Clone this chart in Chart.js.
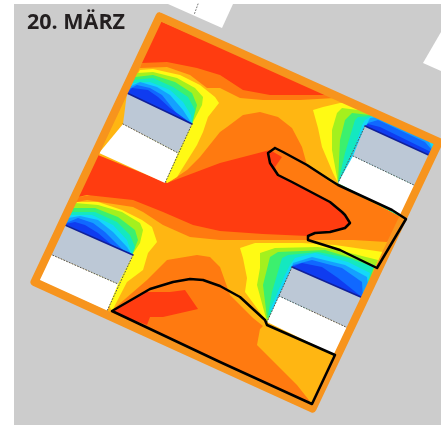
<!DOCTYPE html>
<html lang="de">
<head>
<meta charset="utf-8">
<title>20. März</title>
<script src="https://cdn.jsdelivr.net/npm/chart.js@4"></script>
<style>
    html, body { margin: 0; padding: 0; background: #fff; }
    #wrap { position: relative; width: 441px; height: 425px; overflow: hidden; }
    #titel { position: absolute; left: 27px; top: 7px; font: 700 21.5px/28px "Open Sans", sans-serif; color: #231f20; }
</style>
</head>
<body>
<div id="wrap">
    <canvas id="chartKarte" width="441" height="425"></canvas>
    <div id="titel">20. MÄRZ</div>
</div>
<script>
'use strict';

// ── palette ─────────────────────────────────────────────────────────────────
const C_GRAU     = '#cccccc';
const C_RAHMEN   = '#f7941d';
const C_ROT      = '#ff3c10';
const C_ORANGE   = '#ff7a10';
const C_GOLD     = '#ffb612';
const C_GELB     = '#fffa14';
const C_HELLGRUEN = '#a4f01e';
const C_GRUEN    = '#3cf06e';
const C_TUERKIS  = '#14e8c0';
const C_CYAN     = '#14d8f8';
const C_HELLBLAU = '#14a0ff';
const C_BLAU     = '#1068ff';
const C_DUNKELBLAU = '#0f3cf0';
const C_DACH     = '#bcc8d6';
const C_WEISS    = '#ffffff';
const C_LINIE    = '#000000';

// ── umgebung ────────────────────────────────────────────────────────────────
const flaeche    = [[14,4],[441,4],[441,425],[14,425]];
const nachbarA   = [[168,4],[233,4],[222,28]];
const nachbarB   = [[441,32],[423,63],[441,71]];
const innenfeld  = [[160,21],[437,144],[312,404],[38,281]];
const rahmen     = [[159.5,16.5],[439,142],[312.5,408.5],[34.5,282],[159.5,16.5]];

// ── temperaturzonen mitte ───────────────────────────────────────────────────
const obenOrange = [[160,21],[141,63],[140,68],[167,67],[190,75],[207,88],[220,88],[240,98],[263,100],[300,100],[335,98]];
const obenRot    = [[160,21],[141,63],[167,62],[197,68],[220,75],[243,90],[270,95],[330,95]];
const mitteOrange = [[78,197],[72,203],[87,200],[133,207],[143,212],[163,225],[190,237],[220,240],[287,240],[353,240],[387,242],[406,219],[330,182],[307,165],[302,147],[292,128],[278,117],[260,112],[243,115],[227,127],[220,132],[200,157],[187,170],[168,183]];
const mitteRot   = [[98,155],[167,183],[220,163],[270,150],[282,157],[275,167],[278,175],[292,182],[330,202],[342,212],[350,223],[345,228],[330,232],[315,233],[308,236],[263,234],[220,231],[193,225],[163,212],[133,200],[87,195],[78,197]];
const untenOrange = [[110,312],[147,280],[167,260],[197,255],[210,257],[220,267],[230,295],[253,318],[263,326],[260,329],[257,345],[277,365],[297,385],[312,404]];
const untenRot   = [[112,312],[143,292],[170,292],[185,290],[198,309],[163,317],[150,317],[147,325]];

// ── kältefahne nordwest ─────────────────────────────────────────────────────
const nwGelb   = [[140,70],[153,69],[180,75],[200,85],[215,97],[219,103],[208,117],[203,132],[197,145],[177,177],[167,183],[127,93]];
const nwHgruen = [[137,73],[153,72],[177,78],[195,88],[203,97],[202,105],[192,124],[127,93]];
const nwGruen  = [[135,77],[153,75],[175,82],[192,93],[197,105],[192,124],[127,93]];
const nwTuerk  = [[133,80],[153,78],[173,87],[188,97],[195,110],[192,124],[127,93]];
const nwCyan   = [[132,83],[150,82],[170,90],[183,102],[191,115],[192,124],[127,93]];
const nwHblau  = [[129,87],[140,82],[157,87],[170,95],[183,110],[192,124],[127,93]];
const nwBlau   = [[127,90],[137,85],[150,88],[162,95],[178,115],[192,124],[127,93]];
const nwDblau  = [[127,93],[132,88],[148,90],[158,97],[170,108],[192,124]];

// ── kältefahne nordost ──────────────────────────────────────────────────────
const noGelb   = [[313,110],[323,107],[340,103],[350,103],[363,110],[437,144],[405,219],[338,183],[333,173],[322,147],[318,128]];
const noHgruen = [[337,113],[342,108],[358,110],[368,113],[437,144],[405,219],[338,183],[332,150],[332,130]];
const noGruen  = [[345,120],[352,113],[370,115],[437,144],[405,219],[338,183],[340,140]];
const noTuerk  = [[355,120],[358,117],[372,116],[437,146],[405,219],[338,183],[345,153]];
const noCyan   = [[362,125],[365,120],[373,115],[428,137],[438,143],[437,152],[434,157],[338,183],[355,147]];
const noHblau  = [[370,118],[377,117],[427,138],[432,148],[435,157],[366,126]];
const noBlau   = [[368,123],[378,120],[425,142],[432,150],[434,157],[366,126]];
const noDblau  = [[365,126],[368,124],[380,127],[433,153],[434,157]];

// ── kältefahne südwest ──────────────────────────────────────────────────────
const swGelb   = [[77,202],[98,202],[122,210],[142,220],[152,227],[157,242],[148,253],[143,270],[127,282],[112,311],[65,225]];
const swHgruen = [[75,203],[98,205],[122,212],[140,223],[143,230],[140,243],[132,255],[65,225]];
const swGruen  = [[73,208],[95,208],[118,217],[135,230],[138,240],[132,255],[65,225]];
const swTuerk  = [[72,212],[95,212],[117,222],[130,235],[135,247],[132,255],[65,225]];
const swCyan   = [[70,215],[92,215],[113,225],[127,240],[132,255],[65,225]];
const swHblau  = [[68,218],[80,216],[98,220],[113,232],[127,247],[132,255],[65,225]];
const swBlau   = [[66,223],[78,218],[93,223],[105,232],[123,250],[132,255],[65,225]];
const swDblau  = [[65,224],[75,222],[85,225],[98,233],[112,245],[132,255]];

// ── kältefahne südost ───────────────────────────────────────────────────────
const soGelb   = [[240,248],[255,243],[302,243],[335,245],[383,252],[363,298],[267,322],[245,292],[247,278],[243,258]];
const soHgruen = [[260,253],[275,248],[318,247],[338,250],[378,260],[363,298],[267,322],[257,285],[260,268]];
const soGruen  = [[270,257],[278,252],[325,250],[375,265],[363,298],[267,318],[263,285]];
const soTuerk  = [[282,258],[288,255],[318,252],[348,258],[373,267],[363,298],[268,315],[272,292]];
const soCyan   = [[290,265],[295,258],[315,253],[348,262],[370,273],[363,298],[270,310],[285,275]];
const soHblau  = [[293,263],[312,257],[345,265],[367,277],[368,285],[363,298],[292,267]];
const soBlau   = [[293,265],[312,260],[342,268],[362,282],[363,298],[292,267]];
const soDblau  = [[292,267],[302,263],[322,267],[338,278],[363,298]];

// ── gebäude ─────────────────────────────────────────────────────────────────
const nwDach  = [[127,93],[192,124],[178,153],[123,124]];
const nwWand  = [[123,124],[178,153],[165,183],[99,153]];
const noDach  = [[365,126],[433,157],[418,187],[353,156]];
const noWand  = [[353,156],[418,187],[405,218],[338,183]];
const swDach  = [[65,225],[133,255],[118,284],[50,254]];
const swWand  = [[50,254],[118,284],[107,311],[38,280]];
const soDach  = [[292,267],[363,298],[348,328],[279,296]];
const soWand  = [[279,296],[348,328],[335,355],[267,322]];

// ── konturlinien ────────────────────────────────────────────────────────────
const linieNord = [[275,148],[268,153],[270,163],[278,175],[292,182],[330,202],[342,212],[345,215],[350,223],[345,228],[330,232],[315,233],[308,236],[308,240],[340,250],[377,268],[406,219],[392,210],[338,185],[330,180],[307,165],[283,152],[275,148]];
const linieSued = [[112,311],[150,289],[173,282],[190,279],[203,280],[220,286],[240,297],[253,309],[265,320],[267,325],[335,355],[312,404],[220,362],[112,311]];
const trennNw   = [[123,124],[178,153]];
const trennNo   = [[353,156],[418,187]];
const trennSw   = [[50,254],[118,284]];
const trennSo   = [[279,296],[348,328]];
const kanteNw   = [[192,124],[165,183]];
const kanteNo   = [[365,126],[338,183]];
const kanteSw   = [[133,255],[107,311]];
const kanteSo   = [[292,267],[267,322]];
const firstNw   = [[127,93],[192,124]];
const firstNo   = [[365,126],[433,157]];
const firstSw   = [[65,225],[133,255]];
const firstSo   = [[292,267],[363,298]];
const schnittA  = [[198,4],[194,15]];

function flaecheDs(data, color) {
    return {
        data, showLine: true, fill: 'shape', backgroundColor: color,
        borderWidth: 0, pointRadius: 0, tension: 0, clip: false,
    };
}

function linieDs(data, color, width, dash) {
    return {
        data, showLine: true, fill: false, borderColor: color, borderWidth: width,
        borderDash: dash || [], borderJoinStyle: 'round', borderCapStyle: 'round',
        pointRadius: 0, tension: 0, clip: false,
    };
}

// von unten nach oben
const ebenen = [
    flaecheDs(flaeche, C_GRAU),
    flaecheDs(nachbarA, C_WEISS),
    flaecheDs(nachbarB, C_WEISS),
    linieDs(schnittA, '#777777', 1, [1, 2]),
    flaecheDs(innenfeld, C_GOLD),
    flaecheDs(obenOrange, C_ORANGE),
    flaecheDs(obenRot, C_ROT),
    flaecheDs(mitteOrange, C_ORANGE),
    flaecheDs(mitteRot, C_ROT),
    flaecheDs(untenOrange, C_ORANGE),
    flaecheDs(untenRot, C_ROT),
];

const fahnen = [
    [nwGelb, nwHgruen, nwGruen, nwTuerk, nwCyan, nwHblau, nwBlau, nwDblau],
    [noGelb, noHgruen, noGruen, noTuerk, noCyan, noHblau, noBlau, noDblau],
    [swGelb, swHgruen, swGruen, swTuerk, swCyan, swHblau, swBlau, swDblau],
    [soGelb, soHgruen, soGruen, soTuerk, soCyan, soHblau, soBlau, soDblau],
];
const fahnenFarben = [C_GELB, C_HELLGRUEN, C_GRUEN, C_TUERKIS, C_CYAN, C_HELLBLAU, C_BLAU, C_DUNKELBLAU];

fahnen.forEach(f => f.forEach((poly, i) => ebenen.push(flaecheDs(poly, fahnenFarben[i]))));

[nwDach, noDach, swDach, soDach].forEach(p => ebenen.push(flaecheDs(p, C_DACH)));
[nwWand, noWand, swWand, soWand].forEach(p => ebenen.push(flaecheDs(p, C_WEISS)));
[firstNw, firstNo, firstSw, firstSo].forEach(p => ebenen.push(linieDs(p, '#10209a', 1.5)));
[trennNw, trennNo, trennSw, trennSo].forEach(p => ebenen.push(linieDs(p, '#555555', 1, [1, 2])));
[kanteNw, kanteNo, kanteSw, kanteSo].forEach(p => ebenen.push(linieDs(p, '#555555', 1, [1, 2])));

ebenen.push(linieDs(rahmen, C_RAHMEN, 8));
ebenen.push(linieDs(linieNord, C_LINIE, 2.5));
ebenen.push(linieDs(linieSued, C_LINIE, 2.5));

// Chart.js malt den ersten Datensatz zuoberst
new Chart(document.getElementById('chartKarte'), {
    type: 'scatter',
    data: { datasets: ebenen.slice().reverse() },
    options: {
        responsive: false,
        animation: false,
        events: [],
        layout: { padding: 0 },
        plugins: { legend: { display: false }, tooltip: { enabled: false }, title: { display: false } },
        scales: {
            x: { type: 'linear', min: 0, max: 441, display: false },
            y: { type: 'linear', min: 0, max: 425, reverse: true, display: false },
        },
    },
});
</script>
</body>
</html>
